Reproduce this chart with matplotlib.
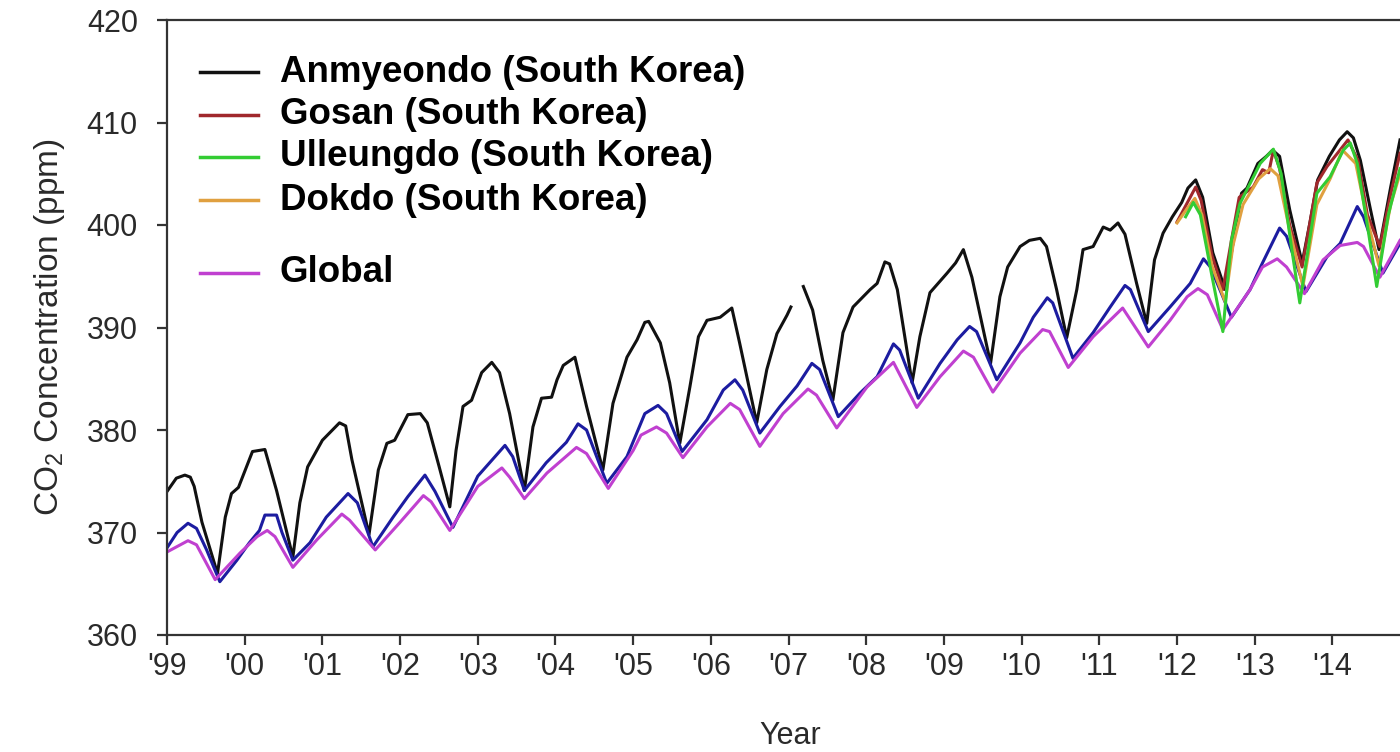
import numpy as np
import matplotlib.pyplot as plt
from matplotlib.ticker import FixedLocator, FixedFormatter

plt.rcParams['font.family'] = ['Liberation Sans', 'DejaVu Sans']
plt.rcParams['mathtext.default'] = 'regular'

# values as (decimal year, ppm); nan = break in the line
anm_t = [1999.0, 1999.12, 1999.23, 1999.3, 1999.35, 1999.45, 1999.65, 1999.75, 1999.83, 1999.92,
         2000.1, 2000.26, 2000.41, 2000.62, 2000.71, 2000.81, 2001.0, 2001.22, 2001.3, 2001.38,
         2001.6, 2001.72, 2001.83, 2001.93, 2002.1, 2002.26, 2002.35, 2002.5, 2002.64, 2002.72,
         2002.81, 2002.92, 2003.05, 2003.18, 2003.28, 2003.41, 2003.6, 2003.71, 2003.82, 2003.95,
         2004.02, 2004.1, 2004.25, 2004.4, 2004.61, 2004.74, 2004.92, 2005.05, 2005.15, 2005.2,
         2005.35, 2005.47, 2005.6, 2005.73, 2005.84, 2005.95, 2006.12, 2006.27, 2006.37, 2006.59,
         2006.72, 2006.85, 2006.98, 2007.03, 2007.1, 2007.19, 2007.31, 2007.44, 2007.57, 2007.7,
         2007.83, 2008.05, 2008.14, 2008.24, 2008.3, 2008.4, 2008.59, 2008.69, 2008.82, 2009.04,
         2009.15, 2009.25, 2009.36, 2009.6, 2009.72, 2009.82, 2009.98, 2010.1, 2010.24, 2010.32,
         2010.45, 2010.58, 2010.71, 2010.79, 2010.92, 2011.05, 2011.14, 2011.24, 2011.33, 2011.48,
         2011.61, 2011.71, 2011.82, 2011.94, 2012.06, 2012.14, 2012.24, 2012.33, 2012.46, 2012.62,
         2012.72, 2012.83, 2012.9, 2013.04, 2013.15, 2013.23, 2013.32, 2013.45, 2013.61, 2013.71,
         2013.81, 2013.96, 2014.09, 2014.19, 2014.27, 2014.36, 2014.49, 2014.6, 2014.75, 2014.87]
anm_v = [374.0, 375.3, 375.6, 375.4, 374.5, 371.0, 366.0, 371.5, 373.8, 374.4,
         377.9, 378.1, 374.1, 367.6, 372.9, 376.4, 379.0, 380.7, 380.4, 377.1,
         369.8, 376.1, 378.7, 379.0, 381.5, 381.6, 380.7, 376.5, 372.5, 378.0,
         382.3, 382.9, 385.6, 386.6, 385.6, 381.6, 374.1, 380.3, 383.1, 383.2,
         384.9, 386.3, 387.1, 382.3, 376.1, 382.6, 387.1, 388.8, 390.5, 390.6,
         388.5, 384.6, 378.7, 384.2, 389.1, 390.7, 391.0, 391.9, 388.5, 380.7,
         385.9, 389.4, 391.2, 392.0, np.nan, 394.0, 391.7, 386.8, 382.9, 389.5,
         392.0, 393.7, 394.3, 396.4, 396.2, 393.7, 384.6, 389.1, 393.4, 395.3,
         396.3, 397.6, 394.9, 386.5, 393.0, 395.9, 397.9, 398.5, 398.7, 397.9,
         393.7, 389.0, 393.7, 397.6, 397.9, 399.8, 399.5, 400.2, 399.1, 394.3,
         390.4, 396.6, 399.2, 400.8, 402.2, 403.6, 404.4, 402.7, 397.3, 393.7,
         398.2, 403.1, 403.6, 406.0, 406.7, 407.3, 406.7, 401.5, 396.3, 400.2,
         404.4, 406.7, 408.3, 409.1, 408.5, 406.3, 401.5, 397.6, 403.7, 408.3]

# unlabelled blue series
blue_t = [1999.0, 1999.13, 1999.27, 1999.38, 1999.51, 1999.68, 1999.9, 2000.06, 2000.19, 2000.26,
          2000.41, 2000.48, 2000.62, 2000.84, 2001.05, 2001.33, 2001.45, 2001.65, 2001.91, 2002.1,
          2002.32, 2002.45, 2002.68, 2003.0, 2003.35, 2003.45, 2003.6, 2003.88, 2004.14, 2004.29,
          2004.4, 2004.66, 2004.92, 2005.15, 2005.32, 2005.43, 2005.63, 2005.95, 2006.16, 2006.31,
          2006.41, 2006.63, 2006.89, 2007.11, 2007.3, 2007.4, 2007.64, 2007.92, 2008.14, 2008.35,
          2008.43, 2008.67, 2008.95, 2009.17, 2009.33, 2009.42, 2009.68, 2009.98, 2010.15, 2010.33,
          2010.4, 2010.66, 2010.92, 2011.14, 2011.33, 2011.4, 2011.63, 2011.91, 2012.17, 2012.34,
          2012.43, 2012.7, 2012.94, 2013.1, 2013.32, 2013.41, 2013.66, 2013.93, 2014.1, 2014.32,
          2014.4, 2014.65, 2014.87]
blue_v = [368.5, 370.0, 370.9, 370.4, 368.3, 365.2, 367.3, 369.0, 370.2, 371.7,
          371.7, 370.0, 367.3, 369.0, 371.5, 373.8, 372.9, 368.6, 371.5, 373.5,
          375.6, 374.0, 370.5, 375.5, 378.5, 377.4, 374.1, 376.8, 378.8, 380.6,
          380.0, 374.8, 377.4, 381.6, 382.4, 381.6, 377.9, 381.0, 383.9, 384.9,
          383.9, 379.7, 382.3, 384.3, 386.5, 385.9, 381.3, 383.6, 385.2, 388.4,
          387.8, 383.1, 386.5, 388.8, 390.1, 389.6, 384.9, 388.5, 391.0, 392.9,
          392.4, 387.0, 389.5, 392.0, 394.1, 393.7, 389.6, 392.0, 394.3, 396.7,
          395.9, 391.0, 393.7, 396.3, 399.7, 398.9, 393.5, 396.9, 398.2, 401.8,
          400.8, 395.3, 398.2]

# Global (magenta)
glob_t = [1999.0, 1999.27, 1999.38, 1999.62, 1999.94, 2000.16, 2000.29, 2000.39, 2000.62, 2000.93,
          2001.25, 2001.35, 2001.68, 2002.0, 2002.3, 2002.4, 2002.64, 2003.0, 2003.31, 2003.41,
          2003.6, 2003.89, 2004.27, 2004.4, 2004.68, 2005.0, 2005.1, 2005.3, 2005.43, 2005.64,
          2005.95, 2006.25, 2006.37, 2006.63, 2006.93, 2007.25, 2007.36, 2007.62, 2008.01, 2008.35,
          2008.65, 2008.95, 2009.25, 2009.38, 2009.63, 2009.98, 2010.27, 2010.36, 2010.6, 2010.92,
          2011.3, 2011.63, 2011.91, 2012.13, 2012.27, 2012.39, 2012.59, 2012.94, 2013.1, 2013.29,
          2013.41, 2013.64, 2013.88, 2014.1, 2014.32, 2014.4, 2014.61, 2014.87]
glob_v = [368.1, 369.2, 368.8, 365.4, 368.0, 369.6, 370.2, 369.6, 366.6, 369.3,
          371.8, 371.2, 368.3, 371.0, 373.6, 373.0, 370.2, 374.5, 376.3, 375.4,
          373.3, 375.8, 378.3, 377.7, 374.3, 378.0, 379.5, 380.3, 379.7, 377.3,
          380.3, 382.6, 382.0, 378.4, 381.6, 384.0, 383.4, 380.2, 384.2, 386.6,
          382.2, 385.2, 387.7, 387.1, 383.7, 387.5, 389.8, 389.6, 386.1, 389.1,
          391.9, 388.1, 390.7, 393.0, 393.8, 393.2, 389.8, 393.7, 395.9, 396.7,
          395.9, 393.3, 396.6, 398.0, 398.3, 397.9, 394.9, 398.5]

gosan_t = [2012.0, 2012.12, 2012.24, 2012.31, 2012.45, 2012.59, 2012.7, 2012.8, 2012.98, 2013.1,
           2013.18, 2013.24, 2013.32, 2013.45, 2013.61, 2013.8, 2013.93, 2014.2, 2014.33, 2014.45,
           2014.61, 2014.75, 2014.87]
gosan_v = [400.3, 402.0, 403.7, 402.4, 397.0, 393.7, 398.5, 402.7, 403.7, 405.4,
           405.1, 407.3, 405.5, 400.0, 395.9, 404.1, 405.7, 408.3, 406.3, 401.0,
           397.9, 403.0, 407.0]

ull_t = [2012.11, 2012.21, 2012.3, 2012.45, 2012.59, 2012.7, 2012.81, 2013.07, 2013.24, 2013.34,
         2013.47, 2013.58, 2013.8, 2013.97, 2014.14, 2014.23, 2014.32, 2014.47, 2014.57, 2014.72,
         2014.87]
ull_v = [400.8, 402.2, 401.0, 395.0, 389.6, 398.5, 402.1, 406.0, 407.4, 405.0,
         398.0, 392.4, 403.1, 404.7, 407.3, 408.0, 406.0, 399.0, 394.0, 401.0,
         405.5]

dok_t = [2012.0, 2012.12, 2012.23, 2012.32, 2012.45, 2012.62, 2012.72, 2012.85, 2013.05, 2013.2,
         2013.3, 2013.45, 2013.62, 2013.8, 2013.97, 2014.13, 2014.3, 2014.45, 2014.6, 2014.75,
         2014.87]
dok_v = [400.2, 401.5, 402.6, 401.0, 396.0, 392.5, 398.0, 402.0, 404.5, 405.5,
         404.8, 399.5, 394.0, 402.0, 404.5, 407.3, 406.0, 400.5, 396.0, 402.0,
         405.0]

years = list(range(1999, 2015))
year_labels = ["'%02d" % (y % 100) for y in years]
y_ticks = [360, 370, 380, 390, 400, 410, 420]

legend_names = ['Anmyeondo (South Korea)', 'Gosan (South Korea)', 'Ulleungdo (South Korea)',
                'Dokdo (South Korea)', 'Global']
legend_colors = ['#111111', '#a0282c', '#33cc33', '#e0a040', '#c040d0']

fig = plt.figure(figsize=(14, 7.52), dpi=100)
ax = fig.add_axes([167 / 1400, 117 / 752, 1247 / 1400, 615 / 752])

lw = 2.2
ax.plot(anm_t, anm_v, color='#111111', lw=lw)
ax.plot(blue_t, blue_v, color='#1c1ca0', lw=lw)
ax.plot(glob_t, glob_v, color='#c040d0', lw=lw)
ax.plot(gosan_t, gosan_v, color='#a0282c', lw=lw)
ax.plot(dok_t, dok_v, color='#e0a040', lw=lw)
ax.plot(ull_t, ull_v, color='#33cc33', lw=lw)

ax.set_xlim(1999, 2015.05)
ax.set_ylim(360, 420)
ax.xaxis.set_major_locator(FixedLocator(years))
ax.xaxis.set_major_formatter(FixedFormatter(year_labels))
ax.set_yticks(y_ticks)

for s in ax.spines.values():
    s.set_color('#333333')
    s.set_linewidth(1.6)
ax.tick_params(direction='out', length=7, width=1.6, color='#333333',
               labelcolor='#2a2a2a', labelsize=22)
ax.tick_params(axis='y', pad=14)
ax.tick_params(axis='x', pad=5)

ax.set_xlabel('Year', fontsize=22, color='#2a2a2a', labelpad=28)
ax.set_ylabel('CO$_2$ Concentration (ppm)', fontsize=24, color='#2a2a2a', labelpad=14)

# legend drawn by hand: the reference has a wider gap before "Global"
rows = [72, 115, 157, 200, 273]
for name, col, ry in zip(legend_names, legend_colors, rows):
    yy = 1 - (ry - 20) / 615
    ax.plot([0.0265, 0.073], [yy, yy], color=col, lw=2.5, transform=ax.transAxes)
    ax.text(0.0904, yy, name, transform=ax.transAxes, fontsize=26.5, fontweight='bold',
            va='center', ha='left', color='black')

fig.savefig('out.png', dpi=100)
